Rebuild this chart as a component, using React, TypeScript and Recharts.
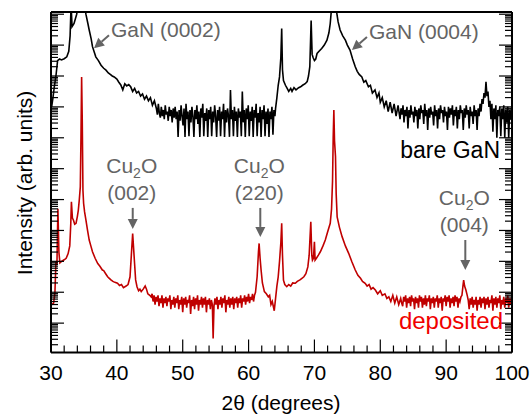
import { LineChart, Line, XAxis, YAxis, ReferenceDot } from 'recharts';

const FONT = '"Liberation Sans", Arial, Helvetica, sans-serif';
const GREY = '#646464';

// [2theta (deg), log10 intensity]
const bareGaN: [number, number][] = [
  [30.1, 8.0], [30.3, 8.3], [30.5, 8.65], [30.75, 9.0], [31.0, 9.5], [31.3, 9.55], [31.6, 9.52], [32.0, 9.56],
  [32.4, 9.62], [32.7, 9.8], [32.9, 10.3], [33.05, 11.3], [33.2, 10.6], [33.5, 10.7], [33.9, 11.0], [34.2, 11.4],
  [34.6, 12.0], [35.0, 11.4], [35.3, 11.0], [35.6, 10.7], [35.8, 10.49], [36.1, 10.2], [36.3, 9.95], [36.6, 9.75],
  [36.8, 9.62], [37.2, 9.5], [37.6, 9.35], [38.0, 9.25], [38.35, 9.19], [38.7, 9.1], [39.0, 9.05], [39.3, 9.0],
  [39.6, 8.97], [40.0, 8.9], [40.3, 8.8], [40.6, 8.71], [40.9, 8.55], [41.2, 8.75], [41.5, 8.68], [41.8, 8.72],
  [42.1, 8.65], [42.4, 8.5], [42.7, 8.6], [43.0, 8.45], [43.3, 8.5], [43.6, 8.35], [43.9, 8.42], [44.2, 8.25],
  [44.5, 8.35], [44.8, 8.2], [45.1, 8.3], [45.4, 8.05], [45.7, 8.2],
  [46.0, 7.95], [46.15, 7.75], [46.3, 8.1], [46.45, 7.8], [46.6, 7.65], [46.75, 8.0], [46.9, 7.7], [47.05, 7.9],
  [47.2, 7.6], [47.35, 8.05], [47.5, 7.75], [47.65, 7.85], [47.8, 7.55], [47.95, 8.0], [48.1, 7.7], [48.25, 7.9],
  [48.4, 7.5], [48.55, 7.95], [48.7, 7.65], [48.85, 8.0], [49.0, 7.6], [49.15, 7.85], [49.3, 7.03], [49.45, 7.9],
  [49.6, 7.55], [49.75, 8.05], [49.9, 7.7], [50.05, 7.4], [50.2, 7.95], [50.35, 7.03], [50.5, 8.1], [50.65, 7.6],
  [50.8, 7.85], [50.95, 7.05], [51.1, 7.9], [51.25, 7.5], [51.4, 8.0], [51.55, 7.7], [51.7, 7.03], [51.85, 7.9],
  [52.0, 7.6], [52.15, 8.05], [52.3, 7.45], [52.45, 7.85], [52.6, 7.03], [52.75, 7.95], [52.9, 7.65], [53.05, 8.1],
  [53.2, 7.05], [53.35, 7.8], [53.5, 7.55], [53.65, 7.95], [53.8, 7.03], [53.95, 7.9], [54.1, 7.6], [54.25, 8.0],
  [54.4, 7.05], [54.55, 7.85], [54.7, 7.5], [54.85, 8.05], [55.0, 7.7], [55.15, 7.03], [55.3, 7.9], [55.45, 7.55],
  [55.6, 8.0], [55.75, 7.05], [55.9, 7.85], [56.05, 7.6], [56.2, 8.1], [56.35, 7.03], [56.5, 7.9], [56.65, 7.5],
  [56.8, 7.95], [56.95, 7.7], [57.1, 7.03], [57.25, 8.55], [57.4, 7.6], [57.55, 7.9], [57.7, 7.05], [57.85, 8.0],
  [58.0, 7.55], [58.15, 7.85], [58.3, 7.03], [58.45, 7.95], [58.6, 7.65], [58.75, 7.85], [58.9, 7.05], [59.05, 8.5],
  [59.2, 7.5], [59.35, 7.9], [59.5, 7.03], [59.65, 7.95], [59.8, 7.6], [59.95, 8.05], [60.1, 7.05], [60.25, 7.85],
  [60.4, 7.55], [60.55, 8.0], [60.7, 7.03], [60.85, 7.9], [61.0, 7.65], [61.15, 8.1], [61.3, 7.05], [61.45, 7.8],
  [61.6, 7.5], [61.75, 8.0], [61.9, 7.03], [62.05, 7.9], [62.2, 7.6], [62.35, 8.05], [62.5, 7.05], [62.65, 7.85],
  [62.8, 7.45], [62.95, 7.95], [63.1, 7.03], [63.25, 7.85], [63.4, 7.6], [63.55, 8.0], [63.7, 7.1], [63.85, 7.9],
  [64.0, 7.7], [64.1, 7.95],
  [64.3, 8.3], [64.5, 8.7], [64.7, 8.97], [64.9, 9.6], [65.03, 10.54], [65.15, 9.2], [65.3, 8.85], [65.6, 8.7],
  [65.8, 8.62], [66.1, 8.5], [66.4, 8.6], [66.6, 8.5], [66.9, 8.62], [67.2, 8.55], [67.6, 8.62], [67.9, 8.65],
  [68.2, 8.7], [68.6, 8.75], [68.9, 8.82], [69.1, 9.0], [69.3, 9.3], [69.5, 10.8], [69.65, 9.7], [69.8, 9.6],
  [70.0, 9.5], [70.2, 9.55], [70.4, 9.73], [70.7, 9.8], [71.1, 9.89], [71.5, 10.0], [71.9, 10.16], [72.2, 10.4],
  [72.4, 10.7], [72.6, 11.2], [72.8, 11.8], [73.0, 12.0], [73.2, 11.5], [73.4, 11.03], [73.6, 10.75], [73.9, 10.49],
  [74.3, 10.3], [74.7, 10.16], [75.0, 10.0], [75.4, 9.84], [75.8, 9.55], [76.2, 9.3], [76.5, 9.15], [76.8, 9.05],
  [77.2, 8.97], [77.5, 8.8], [77.8, 8.85], [78.2, 8.65], [78.5, 8.7], [78.8, 8.45], [79.2, 8.55], [79.5, 8.3],
  [79.8, 8.45], [80.0, 8.15], [80.3, 8.3], [80.6, 8.0], [80.9, 8.2], [81.2, 7.85], [81.5, 8.15], [81.8, 7.8],
  [82.1, 8.1], [82.4, 7.7], [82.7, 8.05],
  [83.0, 7.6], [83.15, 7.95], [83.3, 7.75], [83.45, 8.05], [83.6, 7.5], [83.75, 7.9], [83.9, 7.7], [84.05, 8.0],
  [84.2, 7.3], [84.35, 7.9], [84.5, 7.65], [84.65, 8.05], [84.8, 7.75], [84.95, 7.85], [85.1, 7.5], [85.25, 8.0],
  [85.4, 7.7], [85.55, 7.9], [85.7, 7.3], [85.85, 7.95], [86.0, 7.6], [86.15, 8.05], [86.3, 7.8], [86.45, 7.9],
  [86.6, 7.45], [86.75, 8.1], [86.9, 7.7], [87.05, 7.9], [87.2, 7.25], [87.35, 7.95], [87.5, 7.65], [87.65, 8.0],
  [87.8, 7.75], [87.95, 7.85], [88.1, 7.4], [88.25, 8.05], [88.4, 7.7], [88.55, 7.9], [88.7, 7.3], [88.85, 7.95],
  [89.0, 7.6], [89.15, 8.05], [89.3, 7.8], [89.45, 7.9], [89.6, 7.5], [89.75, 8.0], [89.9, 7.7], [90.05, 7.85],
  [90.2, 7.25], [90.35, 8.0], [90.5, 7.65], [90.65, 7.95], [90.8, 7.75], [90.95, 8.05], [91.1, 7.4], [91.25, 7.9],
  [91.4, 7.7], [91.55, 8.0], [91.7, 7.3], [91.85, 7.9], [92.0, 7.6], [92.15, 8.05], [92.3, 7.8], [92.45, 7.9],
  [92.6, 7.25], [92.75, 7.95], [92.9, 7.65], [93.05, 8.05], [93.2, 7.75], [93.35, 7.9], [93.5, 7.3], [93.65, 8.0],
  [93.8, 7.7], [93.95, 7.85], [94.1, 7.45], [94.25, 8.05], [94.4, 7.7], [94.55, 7.9], [94.7, 7.25], [94.85, 7.95],
  [95.0, 7.7], [95.15, 8.1], [95.3, 7.85], [95.45, 8.25], [95.6, 8.1], [95.75, 8.45], [95.9, 8.3], [96.05, 8.81],
  [96.2, 8.35], [96.35, 8.5], [96.5, 8.0], [96.65, 8.2], [96.8, 7.6], [96.95, 8.1], [97.1, 7.2], [97.25, 7.95],
  [97.4, 7.6], [97.55, 8.05], [97.7, 7.0], [97.85, 7.9], [98.0, 7.7], [98.15, 8.0], [98.3, 7.05], [98.45, 7.95],
  [98.6, 7.6], [98.75, 8.05], [98.9, 7.0], [99.05, 7.9], [99.2, 7.5], [99.35, 8.0], [99.5, 7.0], [99.65, 7.9],
  [99.8, 7.6], [99.95, 7.95],
];

const deposited: [number, number][] = [
  [30.1, 1.6], [30.4, 1.65], [30.6, 2.0], [30.75, 3.0], [30.9, 2.9], [31.05, 4.7], [31.2, 3.3], [31.35, 2.95],
  [31.6, 3.0], [32.0, 3.05], [32.3, 3.1], [32.6, 3.25], [32.85, 3.5], [33.0, 4.2], [33.1, 4.93], [33.25, 4.4],
  [33.4, 4.34], [33.6, 4.2], [33.8, 4.23], [34.0, 4.45], [34.15, 4.66], [34.3, 5.0], [34.45, 5.41], [34.55, 7.0],
  [34.65, 8.97], [34.75, 7.5], [34.85, 5.3], [34.95, 4.88], [35.1, 4.6], [35.3, 4.34], [35.55, 4.0], [35.8, 3.69],
  [36.05, 3.5], [36.3, 3.31], [36.7, 3.1], [37.1, 2.93], [37.4, 2.85], [37.8, 2.72], [38.0, 2.7], [38.3, 2.6],
  [38.6, 2.5], [38.85, 2.45], [39.1, 2.4], [39.4, 2.35], [39.7, 2.32], [40.1, 2.29], [40.4, 2.22], [40.7, 2.25],
  [41.0, 2.15], [41.4, 2.2], [41.7, 2.25], [42.0, 2.5], [42.2, 3.2], [42.4, 3.9], [42.55, 3.4], [42.7, 2.9],
  [42.85, 2.4], [43.06, 2.18], [43.3, 2.05], [43.5, 2.1], [43.7, 2.02], [44.0, 2.1], [44.3, 2.2], [44.5, 2.1],
  [44.7, 1.95], [45.0, 1.9],
  [45.2, 1.85], [45.35, 1.95], [45.5, 1.7], [45.65, 1.9], [45.8, 1.6], [45.95, 1.85], [46.1, 1.7], [46.25, 1.9],
  [46.4, 1.55], [46.55, 1.8], [46.7, 1.65], [46.85, 1.9], [47.0, 1.5], [47.15, 1.8], [47.3, 1.65], [47.45, 1.85],
  [47.6, 1.55], [47.75, 1.8], [47.9, 1.7], [48.05, 1.9], [48.2, 1.45], [48.35, 1.75], [48.5, 1.6], [48.65, 1.85],
  [48.8, 1.5], [48.95, 1.8], [49.1, 1.65], [49.25, 1.9], [49.4, 1.45], [49.55, 1.75], [49.7, 1.6], [49.85, 1.85],
  [50.0, 1.35], [50.15, 1.8], [50.3, 1.6], [50.45, 1.85], [50.6, 1.5], [50.75, 1.75], [50.9, 1.65], [51.05, 1.9],
  [51.2, 1.3], [51.35, 1.75], [51.5, 1.55], [51.65, 1.85], [51.8, 1.45], [51.95, 1.8], [52.1, 1.6], [52.25, 1.9],
  [52.4, 1.4], [52.55, 1.75], [52.7, 1.6], [52.85, 1.85], [53.0, 1.5], [53.15, 1.8], [53.3, 1.6], [53.45, 1.85],
  [53.6, 1.35], [53.75, 1.75], [53.9, 1.6], [54.05, 1.8], [54.2, 1.45], [54.35, 1.75], [54.5, 1.6], [54.62, 0.5],
  [54.75, 1.55], [54.9, 1.8], [55.05, 1.6], [55.2, 1.85], [55.35, 1.45], [55.5, 1.75], [55.65, 1.6], [55.8, 1.85],
  [55.95, 1.5], [56.1, 1.8], [56.25, 1.65], [56.4, 1.9], [56.55, 1.35], [56.7, 1.75], [56.85, 1.6], [57.0, 1.85],
  [57.15, 1.5], [57.3, 1.8], [57.45, 1.6], [57.6, 1.85], [57.75, 1.45], [57.9, 1.8], [58.05, 1.65], [58.2, 1.85],
  [58.35, 1.5], [58.5, 1.8], [58.65, 1.65], [58.8, 1.9], [58.95, 1.5], [59.1, 1.8], [59.25, 1.7], [59.4, 1.9],
  [59.55, 1.6], [59.7, 1.85], [59.85, 1.7], [60.0, 1.95], [60.15, 1.65], [60.3, 1.85], [60.45, 1.75], [60.6, 1.95],
  [60.75, 1.7], [60.9, 1.9], [61.05, 2.0],
  [61.3, 2.5], [61.5, 3.3], [61.6, 3.58], [61.75, 3.1], [61.9, 2.72], [62.1, 2.3], [62.4, 2.02],
  [62.7, 1.95], [63.0, 1.85], [63.2, 1.9], [63.4, 1.6], [63.6, 1.7], [63.9, 1.4], [64.1, 1.8], [64.3, 2.2],
  [64.5, 2.5], [64.7, 3.0], [64.9, 3.6], [65.03, 4.23], [65.15, 3.2], [65.3, 2.39], [65.5, 2.25], [65.8, 2.18],
  [66.1, 2.25], [66.4, 2.2], [66.7, 2.3], [67.1, 2.29], [67.4, 2.35], [67.8, 2.4], [68.1, 2.45], [68.4, 2.5],
  [68.7, 2.6], [69.0, 2.82], [69.2, 3.2], [69.45, 4.28], [69.6, 3.2], [69.7, 3.04], [69.85, 3.1], [70.0, 3.63],
  [70.1, 3.04], [70.3, 3.1], [70.6, 3.2], [70.9, 3.31], [71.3, 3.5], [71.65, 3.69], [72.0, 3.95], [72.4, 4.23],
  [72.6, 4.7], [72.75, 5.6], [72.85, 7.0], [72.95, 7.9], [73.05, 6.9], [73.2, 6.39], [73.3, 5.2], [73.45, 4.44],
  [73.8, 4.1], [74.2, 3.8], [74.7, 3.5], [75.2, 3.26], [75.7, 2.98], [76.2, 2.72], [76.6, 2.55], [77.0, 2.45],
  [77.3, 2.35], [77.7, 2.29], [78.0, 2.2], [78.3, 2.25], [78.6, 2.1], [78.9, 2.15], [79.25, 2.07], [79.6, 1.95],
  [80.0, 2.05], [80.3, 1.9], [80.7, 1.95], [81.0, 1.8], [81.3, 1.85], [81.6, 1.7], [81.9, 1.9], [82.2, 1.65],
  [82.5, 1.85], [82.8, 1.6],
  [83.1, 1.8], [83.25, 1.65], [83.4, 1.55], [83.55, 1.85], [83.7, 1.7], [83.85, 1.9], [84.0, 1.5], [84.15, 1.8],
  [84.3, 1.65], [84.45, 1.85], [84.6, 1.55], [84.75, 1.9], [84.9, 1.7], [85.05, 1.8], [85.2, 1.45], [85.35, 1.85],
  [85.5, 1.65], [85.65, 1.8], [85.8, 1.5], [85.95, 1.9], [86.1, 1.7], [86.25, 1.85], [86.4, 1.5], [86.55, 1.8],
  [86.7, 1.6], [86.85, 1.9], [87.0, 1.55], [87.15, 1.8], [87.3, 1.7], [87.45, 1.9], [87.6, 1.45], [87.75, 1.8],
  [87.9, 1.65], [88.05, 1.85], [88.2, 1.5], [88.35, 1.8], [88.5, 1.7], [88.65, 1.9], [88.8, 1.5], [88.95, 1.8],
  [89.1, 1.65], [89.25, 1.85], [89.4, 1.4], [89.55, 1.8], [89.7, 1.7], [89.85, 1.9], [90.0, 1.55], [90.15, 1.85],
  [90.3, 1.7], [90.45, 1.9], [90.6, 1.5], [90.75, 1.8], [90.9, 1.65], [91.05, 1.85], [91.2, 1.55], [91.35, 1.9],
  [91.5, 1.7], [91.65, 1.85], [91.8, 1.5], [91.95, 1.8], [92.1, 1.7], [92.25, 1.85], [92.4, 1.9], [92.55, 2.2],
  [92.66, 2.39], [92.8, 2.2], [93.0, 2.07], [93.2, 1.9], [93.35, 1.75], [93.5, 1.45], [93.65, 1.8], [93.8, 1.6],
  [93.95, 1.85], [94.1, 1.5], [94.25, 1.75], [94.4, 1.6], [94.55, 1.85], [94.7, 1.4], [94.85, 1.75], [95.0, 1.6],
  [95.15, 1.85], [95.3, 1.5], [95.45, 1.8], [95.6, 1.65], [95.75, 1.85], [95.9, 1.45], [96.05, 1.8], [96.2, 1.6],
  [96.35, 1.85], [96.5, 1.5], [96.65, 1.75], [96.8, 1.65], [96.95, 1.9], [97.1, 1.4], [97.25, 1.8], [97.4, 1.6],
  [97.55, 1.85], [97.7, 1.5], [97.85, 1.8], [98.0, 1.65], [98.15, 1.9], [98.3, 1.45], [98.45, 1.75], [98.6, 1.6],
  [98.75, 1.85], [98.9, 1.5], [99.05, 1.8], [99.2, 1.65], [99.35, 1.9], [99.5, 1.5], [99.65, 1.8], [99.8, 1.6],
  [99.95, 1.85],
];

// x ticks every 2 deg, labels every 10
const xTicks = [30, 32, 34, 36, 38, 40, 42, 44, 46, 48, 50, 52, 54, 56, 58, 60, 62, 64, 66, 68, 70,
  72, 74, 76, 78, 80, 82, 84, 86, 88, 90, 92, 94, 96, 98, 100];
const xLabels = [30, 40, 50, 60, 70, 80, 90, 100];

// peak annotations: arrow tip at [2theta, log10 I]
const ganLabels = ['GaN (0002)', 'GaN (0004)'];
const ganTips: [number, number][] = [[36.53, 9.9], [75.7, 9.84]];
const cuLabels = ['(002)', '(220)', '(004)'];
const cuTips: [number, number][] = [[42.41, 4.05], [61.78, 3.79], [92.91, 2.72]];
const cuArrowLen = [21, 29, 30];

const Y_MIN = 1.12;
const Y_MAX = 1.18e11;

const yTicks: number[] = [];
for (let e = 0; e <= 11; e++) {
  for (let m = 1; m <= 9; m++) {
    const v = m * Math.pow(10, e);
    if (v >= Y_MIN && v <= Y_MAX) yTicks.push(v);
  }
}
const isDecade = (v: number) => Math.abs(Math.log10(v) - Math.round(Math.log10(v))) < 1e-9;

const toRows = (pts: [number, number][]) => pts.map(([t, l]) => ({ x: t, y: Math.pow(10, l) }));
const bareRows = toRows(bareGaN);
const depRows = toRows(deposited);

const TICK_W = 1.2;
const AXIS = { stroke: '#000', strokeWidth: 2 };

const bottomTick = (p: any) => {
  const v = p.payload.value;
  const major = xLabels.includes(v);
  return (
    <g>
      <line x1={p.x} x2={p.x} y1={p.y} y2={p.y - (major ? 13 : 7)} stroke="#000" strokeWidth={TICK_W} />
      {major && (
        <text x={p.x} y={p.y + 27.5} textAnchor="middle" fontSize={21} fontFamily={FONT} fill="#000">
          {v}
        </text>
      )}
    </g>
  );
};

const topTick = (p: any) => {
  const major = xLabels.includes(p.payload.value);
  return <line x1={p.x} x2={p.x} y1={p.y} y2={p.y + (major ? 13 : 7)} stroke="#000" strokeWidth={TICK_W} />;
};

const leftTick = (p: any) => {
  const major = isDecade(p.payload.value);
  return <line x1={p.x} x2={p.x + (major ? 13 : 7)} y1={p.y} y2={p.y} stroke="#000" strokeWidth={TICK_W} />;
};

const rightTick = (p: any) => {
  const major = isDecade(p.payload.value);
  return <line x1={p.x} x2={p.x - (major ? 13 : 7)} y1={p.y} y2={p.y} stroke="#000" strokeWidth={TICK_W} />;
};

// arrow from (x1,y1) to tip (x2,y2)
const Arrow = ({ x1, y1, x2, y2 }: { x1: number; y1: number; x2: number; y2: number }) => {
  const dx = x2 - x1;
  const dy = y2 - y1;
  const len = Math.sqrt(dx * dx + dy * dy);
  const ux = dx / len;
  const uy = dy / len;
  const head = 10;
  const half = 5;
  const bx = x2 - ux * head;
  const by = y2 - uy * head;
  return (
    <g>
      <line x1={x1} y1={y1} x2={bx} y2={by} stroke={GREY} strokeWidth={2} />
      <polygon
        points={`${x2},${y2} ${bx - uy * half},${by + ux * half} ${bx + uy * half},${by - ux * half}`}
        fill={GREY}
      />
    </g>
  );
};

const ganShape = (label: string) => (p: any) => (
  <g>
    <Arrow x1={p.cx + 15} y1={p.cy - 13} x2={p.cx} y2={p.cy} />
    <text x={p.cx + 17} y={p.cy - 11} fontSize={21} fontFamily={FONT} fill={GREY}>
      {label}
    </text>
  </g>
);

const cuShape = (label: string, arrowLen: number) => (p: any) => {
  const top = p.cy - arrowLen;
  return (
    <g>
      <Arrow x1={p.cx} y1={top} x2={p.cx} y2={p.cy} />
      <text x={p.cx - 1} y={top - 35} textAnchor="middle" fontSize={21} fontFamily={FONT} fill={GREY}>
        <tspan>Cu</tspan>
        <tspan fontSize={14} dy={5}>2</tspan>
        <tspan dy={-5}>O</tspan>
      </text>
      <text x={p.cx - 1} y={top - 8} textAnchor="middle" fontSize={21} fontFamily={FONT} fill={GREY}>
        {label}
      </text>
    </g>
  );
};

export default function App() {
  return (
    <div style={{ position: 'absolute', left: 0, top: 0, width: 532, height: 414, background: '#fff' }}>
      <LineChart width={532} height={414} margin={{ top: 0, right: 0, bottom: 0, left: 0 }}>
        <XAxis
          xAxisId="x"
          dataKey="x"
          type="number"
          domain={[30, 100]}
          ticks={xTicks}
          interval={0}
          allowDataOverflow
          height={61.5}
          tickSize={0}
          tickMargin={0}
          tickLine={false}
          axisLine={AXIS}
          tick={bottomTick}
        />
        <XAxis
          xAxisId="top"
          orientation="top"
          type="number"
          domain={[30, 100]}
          ticks={xTicks}
          interval={0}
          allowDataOverflow
          height={12}
          tickSize={0}
          tickMargin={0}
          tickLine={false}
          axisLine={AXIS}
          tick={topTick}
        />
        <YAxis
          yAxisId="y"
          type="number"
          scale="log"
          domain={[Y_MIN, Y_MAX]}
          ticks={yTicks}
          interval={0}
          allowDataOverflow
          width={51}
          tickSize={0}
          tickMargin={0}
          tickLine={false}
          axisLine={AXIS}
          tick={leftTick}
        />
        <YAxis
          yAxisId="right"
          orientation="right"
          type="number"
          scale="log"
          domain={[Y_MIN, Y_MAX]}
          ticks={yTicks}
          interval={0}
          allowDataOverflow
          width={20}
          tickSize={0}
          tickMargin={0}
          tickLine={false}
          axisLine={AXIS}
          tick={rightTick}
        />
        <Line
          xAxisId="x"
          yAxisId="y"
          data={bareRows}
          dataKey="y"
          type="linear"
          stroke="#000"
          strokeWidth={1.6}
          dot={false}
          activeDot={false}
          isAnimationActive={false}
        />
        <Line
          xAxisId="x"
          yAxisId="y"
          data={depRows}
          dataKey="y"
          type="linear"
          stroke="#c00000"
          strokeWidth={1.6}
          dot={false}
          activeDot={false}
          isAnimationActive={false}
        />
        {ganTips.map(([t, l], i) => (
          <ReferenceDot
            key={ganLabels[i]}
            xAxisId="x"
            yAxisId="y"
            x={t}
            y={Math.pow(10, l)}
            r={0}
            shape={ganShape(ganLabels[i])}
          />
        ))}
        {cuTips.map(([t, l], i) => (
          <ReferenceDot
            key={cuLabels[i]}
            xAxisId="x"
            yAxisId="y"
            x={t}
            y={Math.pow(10, l)}
            r={0}
            shape={cuShape(cuLabels[i], cuArrowLen[i])}
          />
        ))}
      </LineChart>

      {/* axis titles and series names */}
      <svg
        width={532}
        height={414}
        style={{ position: 'absolute', left: 0, top: 0, pointerEvents: 'none' }}
        fontFamily={FONT}
      >
        <text x={281} y={410} textAnchor="middle" fontSize={21} fill="#000">
          2θ (degrees)
        </text>
        <text transform="translate(32,183) rotate(-90)" textAnchor="middle" fontSize={21} fill="#000">
          Intensity (arb. units)
        </text>
        <text x={500} y={158} textAnchor="end" fontSize={23} fill="#000">
          bare GaN
        </text>
        <text x={503} y={329} textAnchor="end" fontSize={24} fill="#f00000">
          deposited
        </text>
      </svg>
    </div>
  );
}
